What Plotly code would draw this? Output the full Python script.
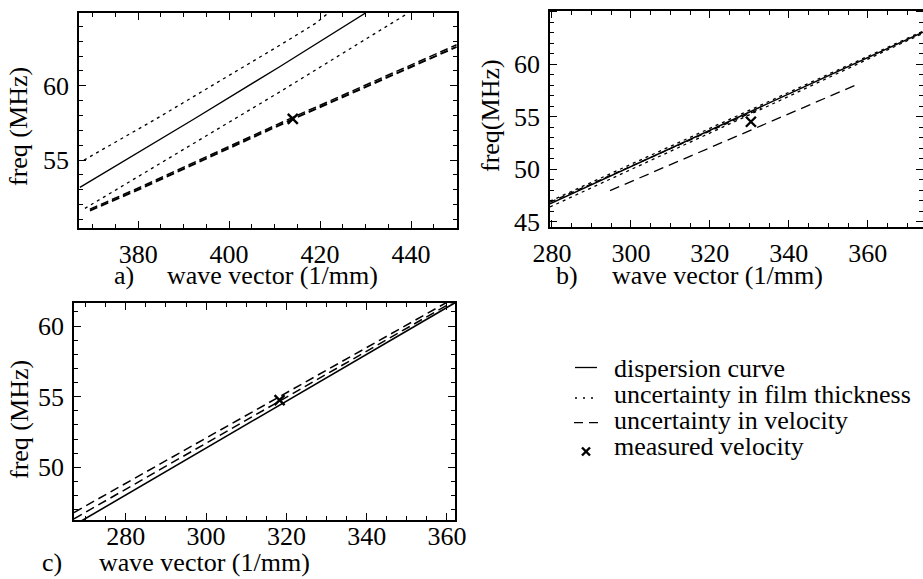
import plotly.graph_objects as go

W, H = 923, 579
FONT = "Liberation Serif, Times New Roman, serif"

# ---------------- panel a ----------------
a_solid_x = [367.2, 392.2, 411.2, 430.0]
a_solid_y = [53.16, 57.75, 61.3, 64.9]
a_thick_hi_x = [368.1, 384.1, 411.2, 419.0, 421.8]
a_thick_hi_y = [55.0, 57.8, 62.74, 64.2, 64.9]
a_thick_lo_x = [368.3, 400.9, 411.2, 439.4]
a_thick_lo_y = [51.75, 57.69, 59.6, 64.9]
a_vel1_x = [369.4, 379.0, 414.0, 450.0]
a_vel1_y = [51.6, 52.87, 57.76, 62.62]
a_vel2_x = [369.4, 379.0, 414.0, 450.0]
a_vel2_y = [51.7, 52.98, 57.88, 62.76]
a_meas_x = [414.0]
a_meas_y = [57.78]

# ---------------- panel b ----------------
b_solid_x = [279.5, 330.0, 374.0]
b_solid_y = [46.7, 55.4, 63.05]
b_thick_hi_x = [279.5, 330.0, 374.0]
b_thick_hi_y = [46.95, 55.62, 63.15]
b_thick_lo_x = [279.5, 330.0, 374.0]
b_thick_lo_y = [46.4, 55.18, 62.95]
b_vel_hi_x = [279.5, 333.0]
b_vel_hi_y = [46.85, 55.8]
b_vel_lo_x = [294.7, 357.5]
b_vel_lo_y = [47.96, 58.1]
b_meas_x = [330.4]
b_meas_y = [54.52]

# ---------------- panel c ----------------
c_solid_x = [267.1, 318.3, 362.0]
c_solid_y = [45.9, 54.4, 61.65]
c_vel_mid_x = [267.1, 318.3, 362.0]
c_vel_mid_y = [46.35, 54.68, 61.8]
c_vel_hi_x = [267.1, 318.3, 362.0]
c_vel_hi_y = [46.8, 54.97, 62.0]
c_meas_x = [318.3]
c_meas_y = [54.75]

legend_labels = ["dispersion curve", "uncertainty in film thickness",
                 "uncertainty in velocity", "measured velocity"]

fig = go.Figure()

def line(x, y, ax, dash="solid", width=1.3):
    fig.add_trace(go.Scatter(x=x, y=y, mode="lines", xaxis="x" + ax, yaxis="y" + ax,
                             line=dict(color="black", width=width, dash=dash),
                             showlegend=False, hoverinfo="skip"))

def cross(x, y, ax):
    fig.add_trace(go.Scatter(x=x, y=y, mode="markers", xaxis="x" + ax, yaxis="y" + ax,
                             marker=dict(symbol="x-thin", size=10, color="black",
                                         line=dict(color="black", width=2.4)),
                             showlegend=False, hoverinfo="skip"))

DOT = "3px,4px"
# a
line(a_thick_hi_x, a_thick_hi_y, "", DOT, 1.3)
line(a_solid_x, a_solid_y, "", "solid", 1.4)
line(a_thick_lo_x, a_thick_lo_y, "", DOT, 1.3)
line(a_vel1_x, a_vel1_y, "", "8px,4px", 2.0)
line(a_vel2_x, a_vel2_y, "", "8px,4px", 1.5)
cross(a_meas_x, a_meas_y, "")
# b
line(b_thick_hi_x, b_thick_hi_y, "2", DOT, 1.3)
line(b_thick_lo_x, b_thick_lo_y, "2", DOT, 1.3)
line(b_solid_x, b_solid_y, "2", "solid", 1.4)
line(b_vel_hi_x, b_vel_hi_y, "2", "6px,4px", 1.3)
line(b_vel_lo_x, b_vel_lo_y, "2", "10px,6px", 1.3)
cross(b_meas_x, b_meas_y, "2")
# c
line(c_solid_x, c_solid_y, "3", "solid", 1.6)
line(c_vel_mid_x, c_vel_mid_y, "3", "9px,5px", 1.5)
line(c_vel_hi_x, c_vel_hi_y, "3", "9px,5px", 1.5)
cross(c_meas_x, c_meas_y, "3")

def px_x(p):
    return p / W

def px_y(p):
    return 1 - p / H

def axis_common(dtick, minor_dtick, standoff):
    return dict(showline=True, mirror="allticks", linecolor="black", linewidth=1.6,
                ticks="inside", ticklen=7, tickwidth=1.3, tickcolor="black",
                dtick=dtick, tick0=0,
                minor=dict(ticks="inside", ticklen=4, tickwidth=1, tickcolor="black",
                           dtick=minor_dtick, tick0=0),
                showgrid=False, zeroline=False, fixedrange=True,
                tickfont=dict(family=FONT, size=26, color="black"),
                ticklabelstandoff=standoff)

fig.update_layout(
    width=W, height=H, margin=dict(l=0, r=0, t=0, b=0, autoexpand=False),
    paper_bgcolor="white", plot_bgcolor="white", showlegend=False,
    xaxis=dict(domain=[px_x(79), px_x(457)], range=[367.0, 450.1], anchor="y",
               **axis_common(20, 5, 2)),
    yaxis=dict(domain=[px_y(228), px_y(13)], range=[50.43, 64.9], anchor="x",
               **axis_common(5, 1, 3)),
    xaxis2=dict(domain=[px_x(550), 1.0], range=[279.5, 374.0], anchor="y2",
                **axis_common(20, 5, 2)),
    yaxis2=dict(domain=[px_y(226.7), px_y(10.7)], range=[44.52, 65.1], anchor="x2",
                **axis_common(5, 1, 3)),
    xaxis3=dict(domain=[px_x(74), px_x(455)], range=[267.1, 362.0], anchor="y3",
                **axis_common(20, 5, -8)),
    yaxis3=dict(domain=[px_y(520), px_y(302.7)], range=[46.27, 61.65], anchor="x3",
                **axis_common(5, 1, 3)),
)

annots = []
def txt(text, x, y, angle=0, xanchor="center"):
    annots.append(dict(text=text, x=px_x(x), y=px_y(y), xref="paper", yref="paper",
                       showarrow=False, textangle=angle, xanchor=xanchor, yanchor="middle",
                       font=dict(family=FONT, size=26, color="black")))

# axis titles
txt("a)", 124, 276)
txt("wave vector (1/mm)", 272, 276)
txt("b)", 567, 276)
txt("wave vector (1/mm)", 717, 276)
txt("c)", 52, 562)
txt("wave vector (1/mm)", 204, 562)
txt("freq (MHz)", 19, 127, -90)
txt("freq(MHz)", 491, 116, -90)
txt("freq (MHz)", 19, 420, -90)

# legend text
leg_y = [368, 394, 420, 446]
for lab, yy in zip(legend_labels, leg_y):
    txt(lab, 612, yy, xanchor="left")

fig.update_layout(annotations=annots)

shapes = []
def seg(x0, y0, x1, y1, dash="solid", width=1.3):
    shapes.append(dict(type="line", xref="paper", yref="paper",
                       x0=px_x(x0), y0=px_y(y0), x1=px_x(x1), y1=px_y(y1),
                       line=dict(color="black", width=width, dash=dash)))

seg(575, 367.5, 597, 367.5)
seg(575, 398, 599, 398, "2px,6px", 1.5)
seg(574, 422.7, 599, 422.7, "9px,6px", 1.3)
seg(582, 447.5, 590, 455.5, "solid", 2.4)
seg(582, 455.5, 590, 447.5, "solid", 2.4)
fig.update_layout(shapes=shapes)

fig.write_html("out.html", config={"displayModeBar": False},
               post_script="document.body.style.margin='0';document.body.style.overflow='hidden';")
